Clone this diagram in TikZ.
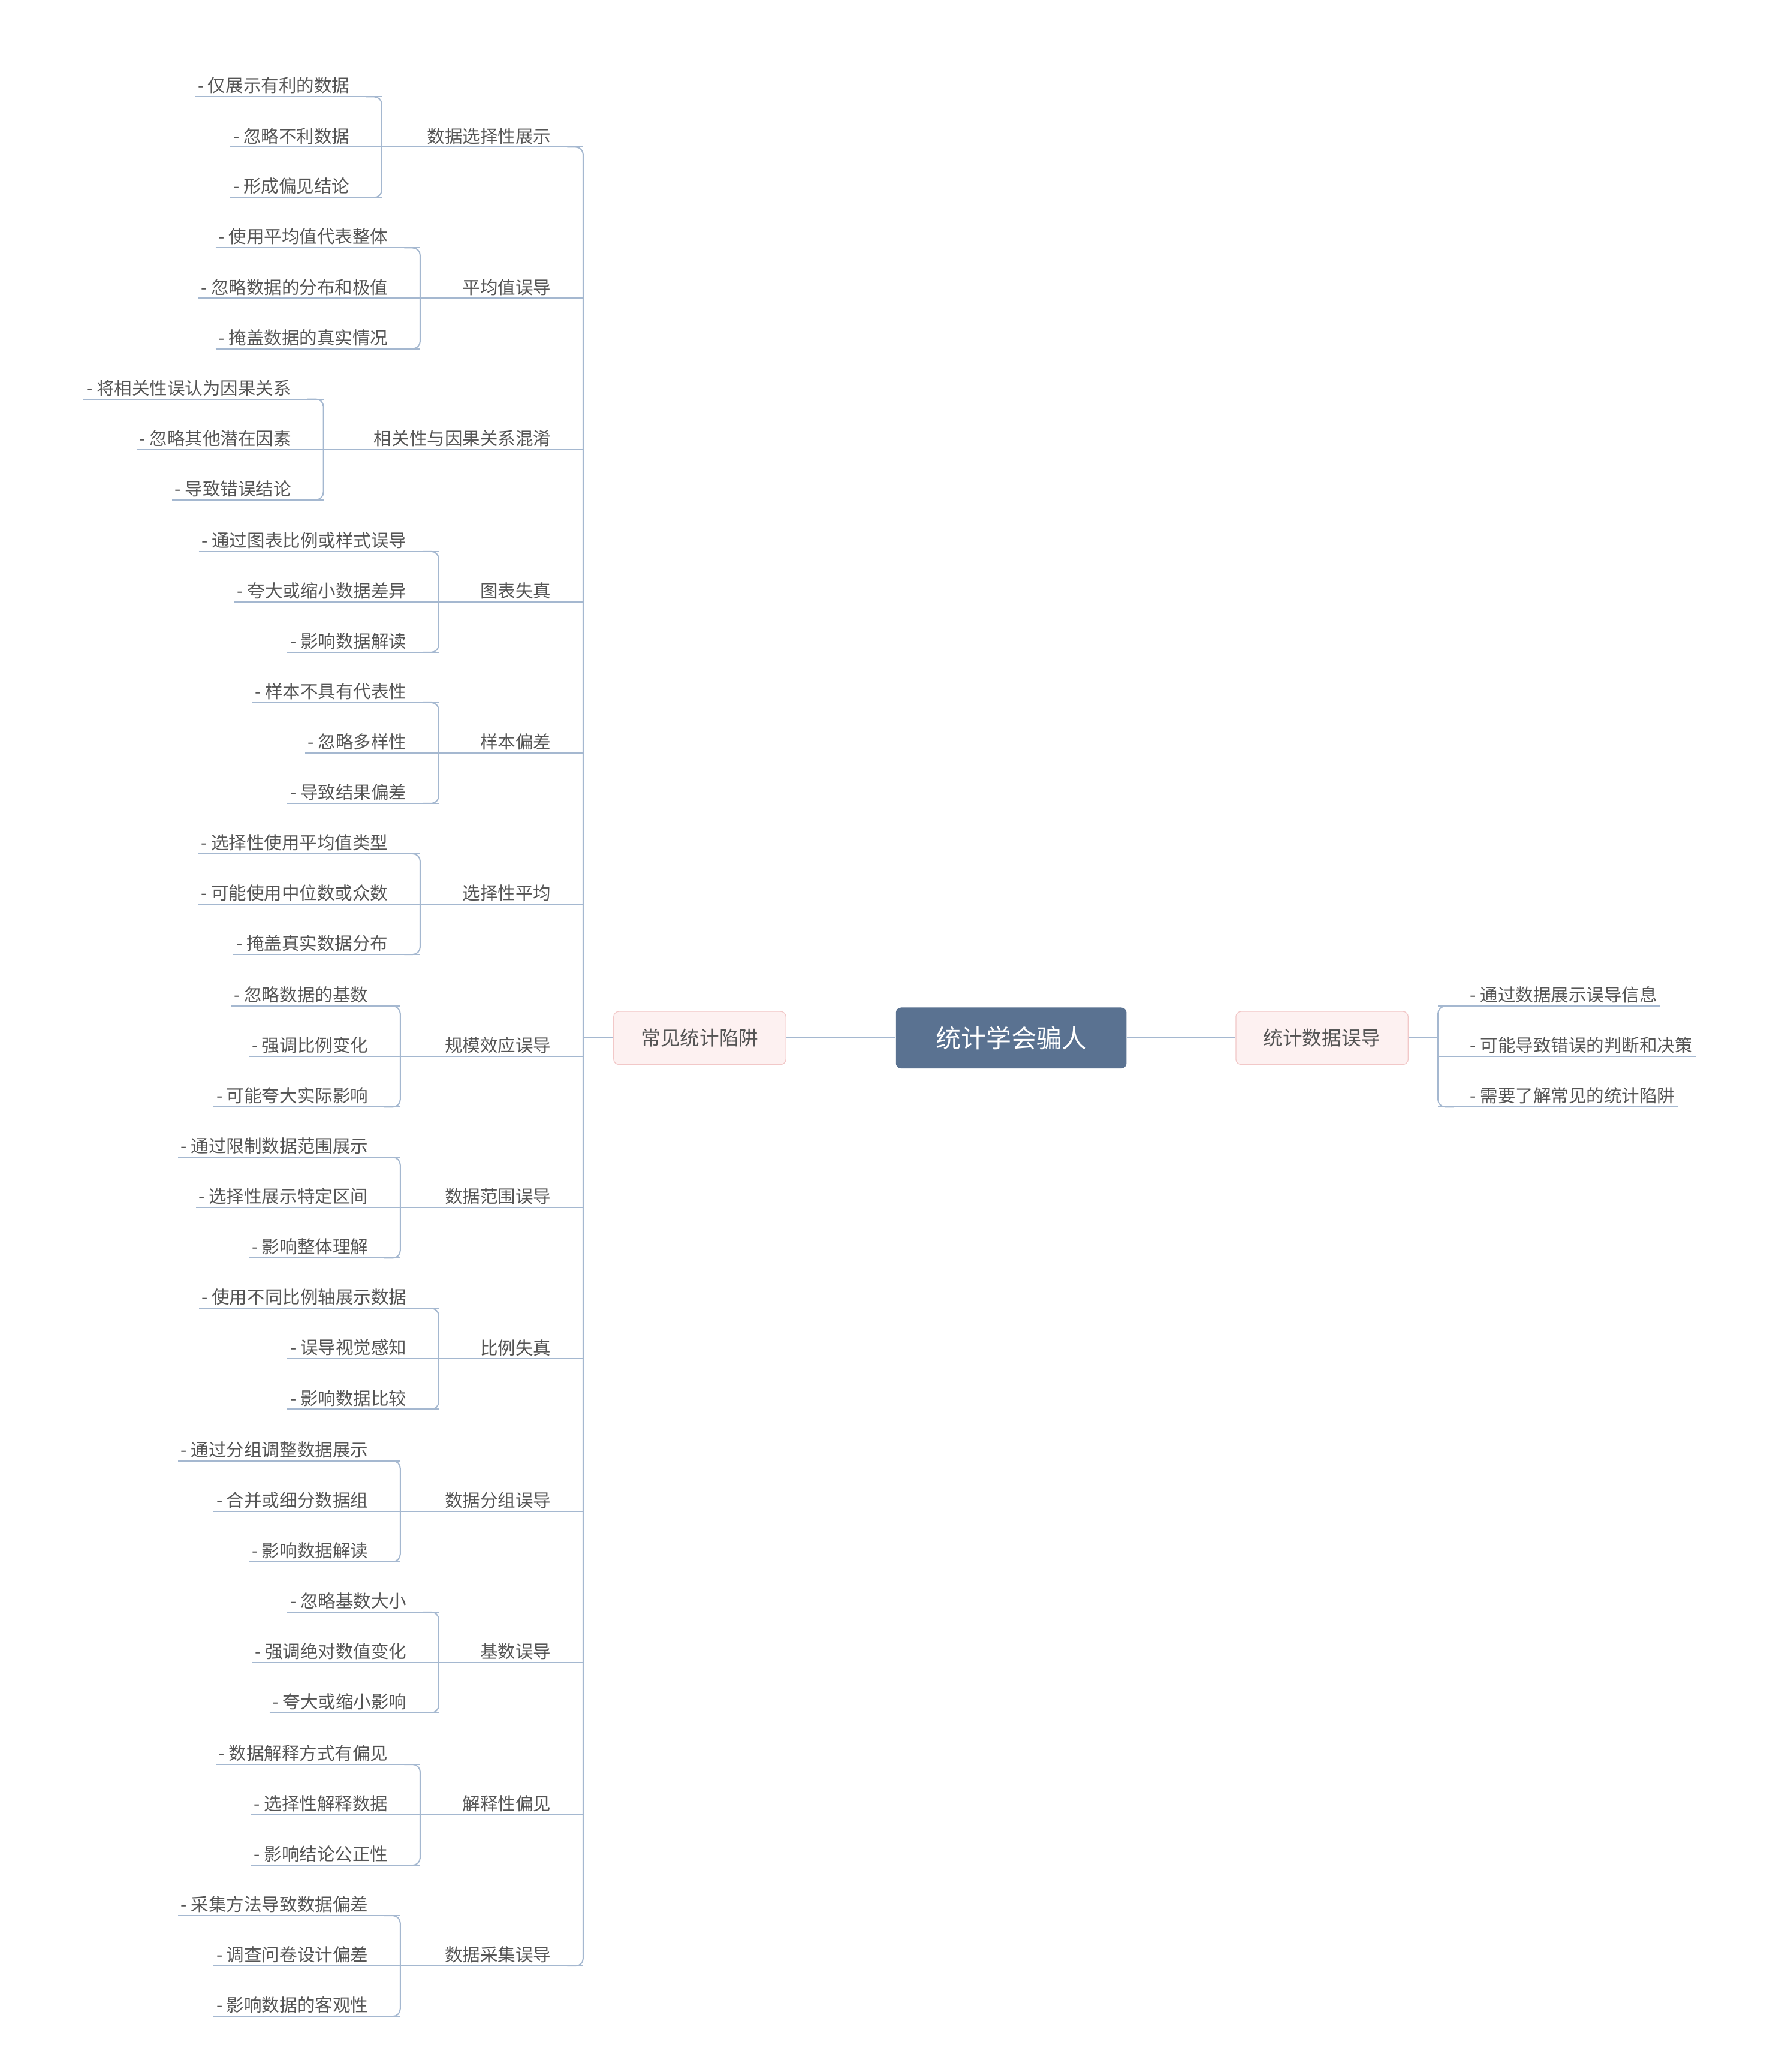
\documentclass[tikz,border=0pt]{standalone}
\usepackage{fontspec}
\setmainfont{Noto Sans CJK SC}
\usetikzlibrary{positioning}
\definecolor{rootfill}{RGB}{90,114,145}
\definecolor{linec}{RGB}{165,184,208}
\definecolor{txt}{RGB}{85,85,85}
\definecolor{pinkfill}{RGB}{253,241,241}
\definecolor{pinkline}{RGB}{242,200,200}
\tikzset{
    conn/.style={draw=linec, line width=1.3pt},
    leaf/.style={inner xsep=3pt, inner ysep=3pt, text=txt, font=\fontsize{19}{22}\selectfont},
    branch/.style={rectangle, rounded corners=2mm, draw=pinkline, fill=pinkfill, line width=0.8pt,
        minimum width=6.5cm, minimum height=2cm, text=txt, font=\fontsize{21}{24}\selectfont}
}
\begin{document}
\begin{tikzpicture}[x=0.05cm,y=-0.05cm]
    \useasboundingbox (0,0) rectangle (1340,1563);
    \node[rectangle, rounded corners=2mm, fill=rootfill, text=white, minimum width=8.7cm,
        minimum height=2.3cm, font=\fontsize{27}{30}\selectfont] (root) at (763,783) {统计学会骗人};
    \node[branch] (right) at (997.5,783) {统计数据误导};
    \node[branch] (left) at (528,783) {常见统计陷阱};
    \draw[conn] (root) -- (right);
    \draw[conn] (root) -- (left);

    % right side
    \draw[conn] (right.east) -- (1085,783);
    \draw[conn, rounded corners=8] (1097,759) -- (1085,759) -- (1085,835) -- (1097,835);
    \foreach \uy/\t [count=\i] in {759/通过数据展示误导信息, 797/可能导致错误的判断和决策, 835/需要了解常见的统计陷阱}{
        \node[leaf, anchor=south west] (r\i) at (1107,\uy) {- \t};
        \draw[conn] (1085,\uy) -- (r\i.south east);
    }

    % left side
    \draw[conn] (left.west) -- (440,783);
    \draw[conn, rounded corners=8] (428,111) -- (440,111) -- (440,1483) -- (428,1483);
    \foreach \cy/\bx/\c/\la/\lb/\lc [count=\i] in {
        111/288/数据选择性展示/仅展示有利的数据/忽略不利数据/形成偏见结论,
        225/317/平均值误导/使用平均值代表整体/忽略数据的分布和极值/掩盖数据的真实情况,
        339/244/相关性与因果关系混淆/将相关性误认为因果关系/忽略其他潜在因素/导致错误结论,
        454/331/图表失真/通过图表比例或样式误导/夸大或缩小数据差异/影响数据解读,
        568/331/样本偏差/样本不具有代表性/忽略多样性/导致结果偏差,
        682/317/选择性平均/选择性使用平均值类型/可能使用中位数或众数/掩盖真实数据分布,
        797/302/规模效应误导/忽略数据的基数/强调比例变化/可能夸大实际影响,
        911/302/数据范围误导/通过限制数据范围展示/选择性展示特定区间/影响整体理解,
        1025/331/比例失真/使用不同比例轴展示数据/误导视觉感知/影响数据比较,
        1140/302/数据分组误导/通过分组调整数据展示/合并或细分数据组/影响数据解读,
        1254/331/基数误导/忽略基数大小/强调绝对数值变化/夸大或缩小影响,
        1369/317/解释性偏见/数据解释方式有偏见/选择性解释数据/影响结论公正性,
        1483/302/数据采集误导/采集方法导致数据偏差/调查问卷设计偏差/影响数据的客观性}{
        \node[leaf, anchor=south east] (c\i) at (418,\cy) {\c};
        \draw[conn] (\bx,\cy) -- (440,\cy);
        \draw[conn, rounded corners=8] (\bx-12,\cy-38) -- (\bx,\cy-38) -- (\bx,\cy+38) -- (\bx-12,\cy+38);
        \node[leaf, anchor=south east] (a\i) at (\bx-22,\cy-38) {- \la};
        \node[leaf, anchor=south east] (b\i) at (\bx-22,\cy) {- \lb};
        \node[leaf, anchor=south east] (d\i) at (\bx-22,\cy+38) {- \lc};
        \draw[conn] (a\i.south west) -- (\bx,\cy-38);
        \draw[conn] (b\i.south west) -- (\bx,\cy);
        \draw[conn] (d\i.south west) -- (\bx,\cy+38);
    }
\end{tikzpicture}
\end{document}
